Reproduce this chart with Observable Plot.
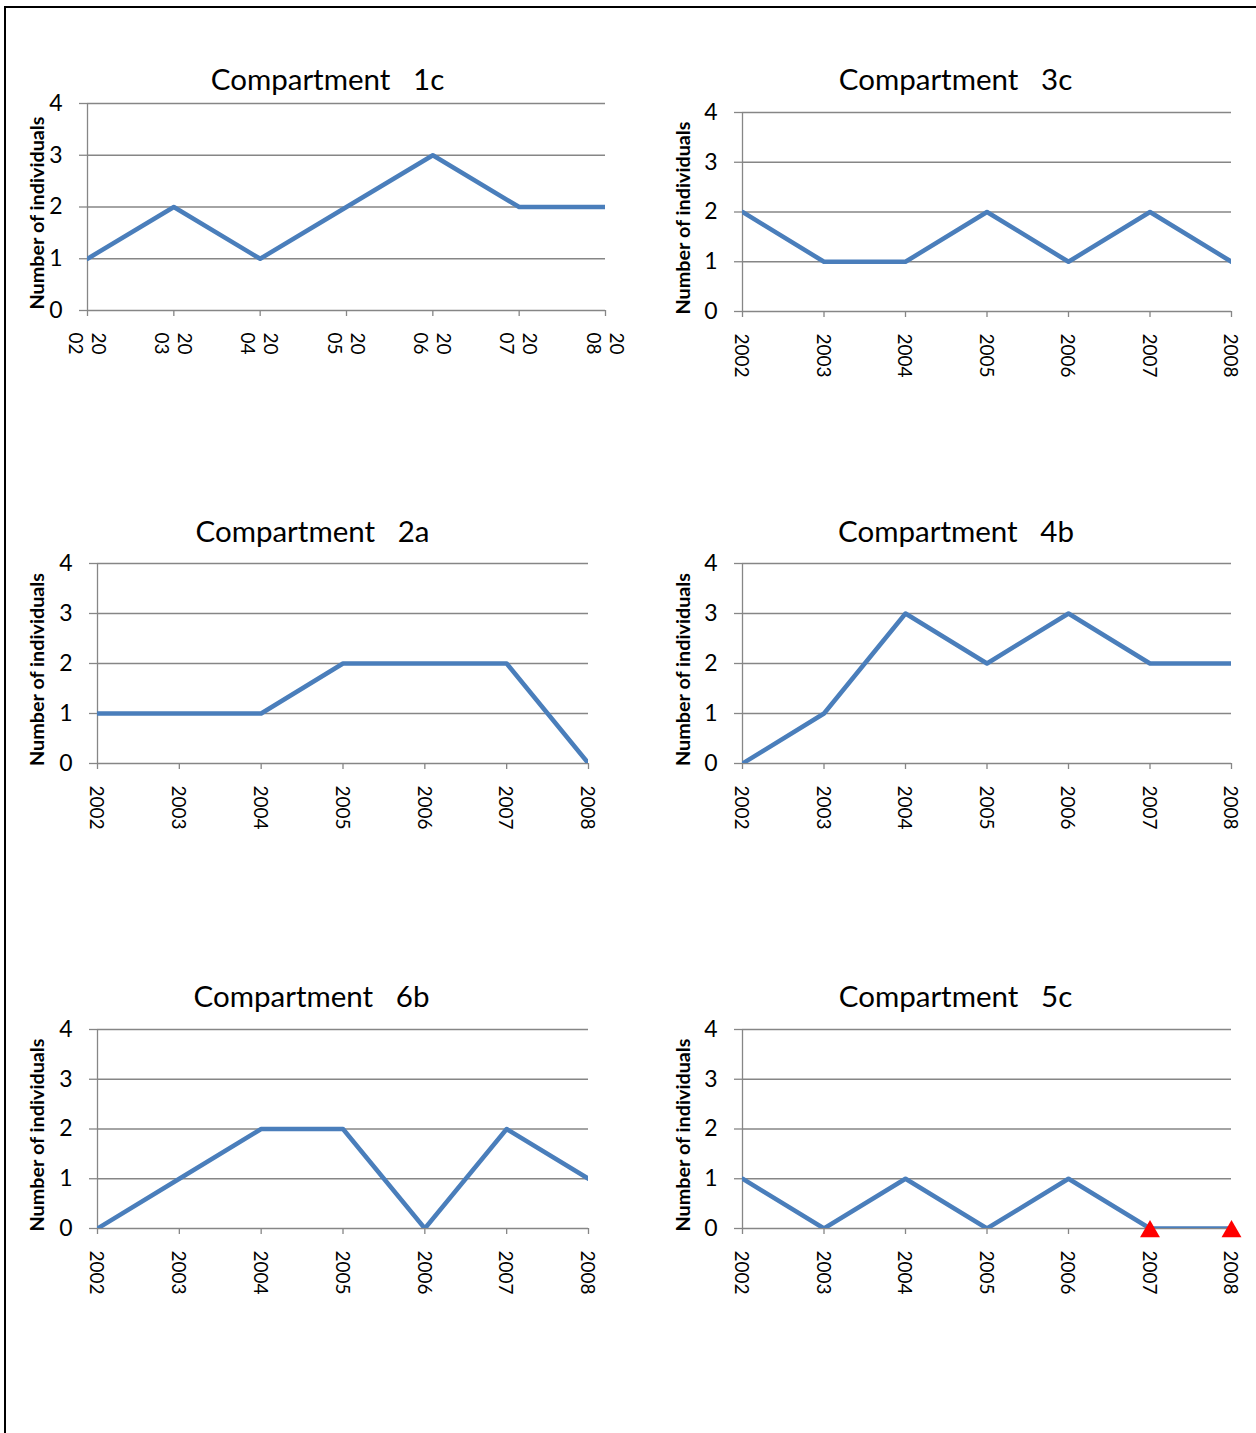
<!DOCTYPE html>
<html><head><meta charset="utf-8">
<script src="https://cdn.jsdelivr.net/npm/d3@7"></script>
<script src="https://cdn.jsdelivr.net/npm/@observablehq/plot@0.6"></script>
<style>
body{margin:0;background:#fff;}
#page{position:relative;width:1256px;height:1433px;overflow:hidden;background:#fff;}
#frame{position:absolute;left:4px;top:6px;width:1300px;height:1500px;border-top:2px solid #000;border-left:2px solid #000;}
.panel{position:absolute;}
.panel svg{overflow:visible;}
</style></head><body><div id="page"><div id="frame"></div></div>
<script>
// ---- data ----
const years = [2002, 2003, 2004, 2005, 2006, 2007, 2008];
const yTicks = [0, 1, 2, 3, 4];
const yLabel = "Number of individuals";
const titles = ["Compartment\u00a0\u00a0\u00a01c", "Compartment\u00a0\u00a0\u00a03c", "Compartment\u00a0\u00a0\u00a02a",
                "Compartment\u00a0\u00a0\u00a04b", "Compartment\u00a0\u00a0\u00a06b", "Compartment\u00a0\u00a0\u00a05c"];
const values1c = [1, 2, 1, 2, 3, 2, 2];
const values3c = [2, 1, 1, 2, 1, 2, 1];
const values2a = [1, 1, 1, 2, 2, 2, 0];
const values4b = [0, 1, 3, 2, 3, 2, 2];
const values6b = [0, 1, 2, 2, 0, 2, 1];
const values5c = [1, 0, 1, 0, 1, 0, 0];
const markerYears5c = [2007, 2008];
const markerValues5c = [0, 0];

// ---- layout ----
const panels = [
  {title: titles[0], values: values1c, x1: 87,  x2: 605,  yt: 103, yb: 310, tdx: -19,   tdy: -14, ldx: -50, split: true},
  {title: titles[1], values: values3c, x1: 742, x2: 1231, yt: 112, yb: 311, tdx: -31.5, tdy: -23, ldx: -59},
  {title: titles[2], values: values2a, x1: 97,  x2: 588,  yt: 563, yb: 763, tdx: -30.5, tdy: -22, ldx: -60},
  {title: titles[3], values: values4b, x1: 742, x2: 1231, yt: 563, yb: 763, tdx: -31,   tdy: -22, ldx: -59},
  {title: titles[4], values: values6b, x1: 97,  x2: 588,  yt: 1029, yb: 1228, tdx: -31.5, tdy: -23, ldx: -60},
  {title: titles[5], values: values5c, x1: 742, x2: 1231, yt: 1029, yb: 1228, tdx: -31.5, tdy: -23, ldx: -59,
   markers: markerYears5c.map((y, i) => ({year: y, n: markerValues5c[i]}))}
];

const page = document.getElementById("page");
const mL = 100, mR = 25, mT = 60, mB = 90;
const grid = "#868686";

for (const p of panels) {
  const data = years.map((y, i) => ({year: y, n: p.values[i]}));
  const marks = [
    Plot.gridY(yTicks, {stroke: grid, strokeOpacity: 1, strokeWidth: 1.3}),
    Plot.axisY(yTicks, {tickSize: 8, tickPadding: 17, stroke: grid, strokeWidth: 1.3, fill: "#000",
      fontSize: 23, label: null, tickFormat: d => String(d)}),
    Plot.ruleX([years[0]], {stroke: grid, strokeWidth: 1.3}),
    Plot.axisX(years, {tickSize: 6, tickPadding: 16, tickRotate: 90, stroke: grid, strokeWidth: 1.3, fill: "#000",
      fontSize: 19, label: null, textAnchor: "start", lineAnchor: "middle", lineHeight: 1.2,
      tickFormat: p.split ? d => String(d).slice(0, 2) + "\n" + String(d).slice(2) : d => String(d)}),
    Plot.line(data, {x: "year", y: "n", stroke: "#4A7EBB", strokeWidth: 4.5, clip: true}),
    Plot.text([p.title], {frameAnchor: "top", lineAnchor: "bottom", dx: p.tdx, dy: p.tdy, fontSize: 29.5, fill: "#000"}),
    Plot.text([yLabel], {frameAnchor: "left", textAnchor: "middle", rotate: -90, dx: p.ldx, dy: 6,
      fontSize: 19.8, fontWeight: "bold", fill: "#000"})
  ];
  if (p.markers) {
    marks.push(Plot.dot(p.markers, {x: "year", y: "n", symbol: "triangle", r: 7.4, fill: "#FF0000", stroke: "none", dy: 3}));
  }
  const chart = Plot.plot({
    width: p.x2 - p.x1 + mL + mR,
    height: p.yb - p.yt + mT + mB,
    marginLeft: mL, marginRight: mR, marginTop: mT, marginBottom: mB,
    style: {fontFamily: "Lato, 'Open Sans', sans-serif", background: "transparent", color: "#000"},
    x: {domain: [years[0], years[years.length - 1]], axis: null},
    y: {domain: [yTicks[0], yTicks[yTicks.length - 1]], axis: null},
    marks
  });
  const wrap = document.createElement("div");
  wrap.className = "panel";
  wrap.style.left = (p.x1 - mL) + "px";
  wrap.style.top = (p.yt - mT) + "px";
  wrap.appendChild(chart);
  page.appendChild(wrap);
}
</script>
</body></html>
